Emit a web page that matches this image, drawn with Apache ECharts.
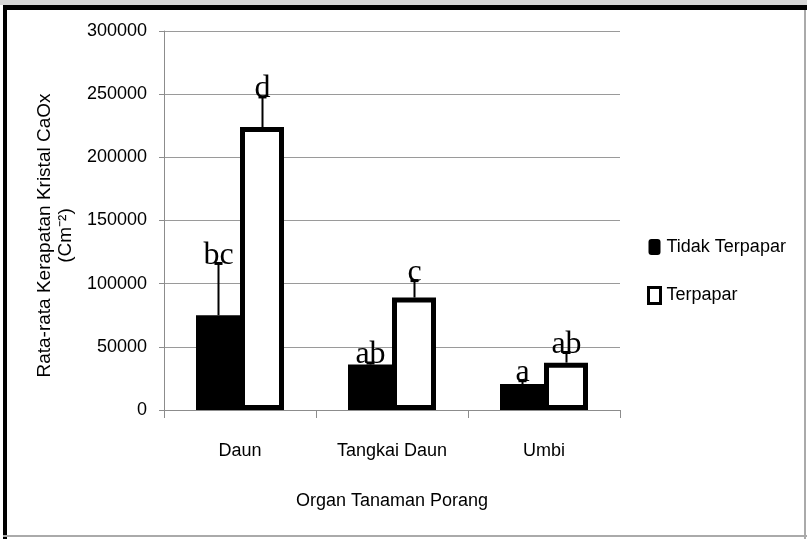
<!DOCTYPE html>
<html>
<head>
<meta charset="utf-8">
<script src="https://cdn.jsdelivr.net/npm/echarts@6/dist/echarts.min.js"></script>
<style>
html,body{margin:0;padding:0;background:#fff;}
#main{width:807px;height:539px;}
</style>
</head>
<body>
<div id="main"></div>
<script>
// ---- data ----
const categories = ['Daun', 'Tangkai Daun', 'Umbi'];
const tidakTerpapar = [75000, 36000, 20500];
const terpapar = [224000, 89000, 37500];
const tidakTerpaparErrTop = [116000, 37200, 23200];
const terpaparErrTop = [247800, 102400, 45500];
const tidakLetters = ['bc', 'ab', 'a'];
const terpaparLetters = ['d', 'c', 'ab'];
const yTicks = [0, 50000, 100000, 150000, 200000, 250000, 300000];

const BAR_W = 44;
const sans = '"Liberation Sans",Arial,sans-serif';

function makeErr(values, tops, letters, sign) {
  return {
    type: 'custom',
    z: 10,
    silent: true,
    data: values.map((v, i) => [i, v, tops[i]]),
    renderItem: function (params, api) {
      const i = api.value(0);
      const base = api.coord([i, api.value(1)]);
      const top = api.coord([i, api.value(2)]);
      const x = Math.round(base[0] + sign * BAR_W / 2) + 0.5;
      return {
        type: 'group',
        children: [
          {type: 'line', shape: {x1: x, y1: base[1], x2: x, y2: top[1]}, style: {stroke: '#000', lineWidth: 2}},
          {type: 'line', shape: {x1: x - 4, y1: top[1], x2: x + 4, y2: top[1]}, style: {stroke: '#000', lineWidth: 3}},
          {type: 'text', x: x, y: top[1] + 8, style: {text: letters[params.dataIndex], fill: '#000', font: '32px "Liberation Serif","Times New Roman",serif', align: 'center', verticalAlign: 'bottom'}}
        ]
      };
    }
  };
}

const chart = echarts.init(document.getElementById('main'), null, {renderer: 'canvas'});
chart.setOption({
  backgroundColor: '#fff',
  animation: false,
  grid: {left: 164, right: 187, top: 31, bottom: 129},
  legend: {
    orient: 'vertical',
    left: 642,
    top: 233,
    itemGap: 30,
    itemWidth: 12,
    itemHeight: 16,
    textStyle: {fontFamily: sans, fontSize: 18, color: '#000', padding: [0, 0, 0, 1]},
    data: [
      {name: 'Tidak Terpapar', icon: 'roundRect', itemStyle: {color: '#000', borderWidth: 0}},
      {name: 'Terpapar', icon: 'rect', itemStyle: {color: '#fff', borderColor: '#000', borderWidth: 3}}
    ]
  },
  xAxis: {
    type: 'category',
    data: categories,
    name: 'Organ Tanaman Porang',
    nameLocation: 'middle',
    nameGap: 82,
    nameTextStyle: {fontFamily: sans, fontSize: 18, color: '#000'},
    axisLine: {lineStyle: {color: '#8c8c8c', width: 1}},
    axisTick: {show: true, length: 8, lineStyle: {color: '#8c8c8c'}},
    axisLabel: {fontFamily: sans, fontSize: 18, color: '#000', margin: 32}
  },
  yAxis: {
    type: 'value',
    min: 0,
    max: 300000,
    interval: 50000,
    name: 'Rata-rata Kerapatan Kristal CaOx\n(Cm⁻²)',
    nameLocation: 'middle',
    nameGap: 82,
    nameTextStyle: {fontFamily: sans, fontSize: 19, color: '#000', lineHeight: 21, padding: [0, 30, 0, 0]},
    axisLine: {show: true, lineStyle: {color: '#8c8c8c', width: 1}},
    axisTick: {show: true, length: 5, lineStyle: {color: '#8c8c8c'}},
    splitLine: {show: true, lineStyle: {color: '#9a9a9a', width: 1}},
    axisLabel: {
      fontFamily: sans, fontSize: 18, color: '#000', margin: 17,
      formatter: function (v) { return yTicks.indexOf(v) >= 0 ? String(v) : ''; }
    }
  },
  series: [
    {
      name: 'Tidak Terpapar', type: 'bar', data: tidakTerpapar,
      barWidth: BAR_W, barGap: '0%',
      itemStyle: {color: '#000', borderColor: '#000', borderWidth: 0}
    },
    {
      name: 'Terpapar', type: 'bar', data: terpapar,
      barWidth: BAR_W, barGap: '0%',
      itemStyle: {color: '#fff', borderColor: '#000', borderWidth: 5}
    },
    makeErr(tidakTerpapar, tidakTerpaparErrTop, tidakLetters, -1),
    makeErr(terpapar, terpaparErrTop, terpaparLetters, 1)
  ],
  graphic: [
    {type: 'rect', shape: {x: 0, y: 0, width: 807, height: 5}, style: {fill: '#d6d6d6'}, z: 100},
    {type: 'rect', shape: {x: 3, y: 5, width: 804, height: 5}, style: {fill: '#000'}, z: 100},
    {type: 'rect', shape: {x: 3, y: 5, width: 4, height: 534}, style: {fill: '#000'}, z: 100},
    {type: 'rect', shape: {x: 804, y: 10, width: 2, height: 529}, style: {fill: '#aaa'}, z: 100},
    {type: 'rect', shape: {x: 3, y: 535, width: 804, height: 2}, style: {fill: '#aaa'}, z: 100}
  ]
});
</script>
</body>
</html>
